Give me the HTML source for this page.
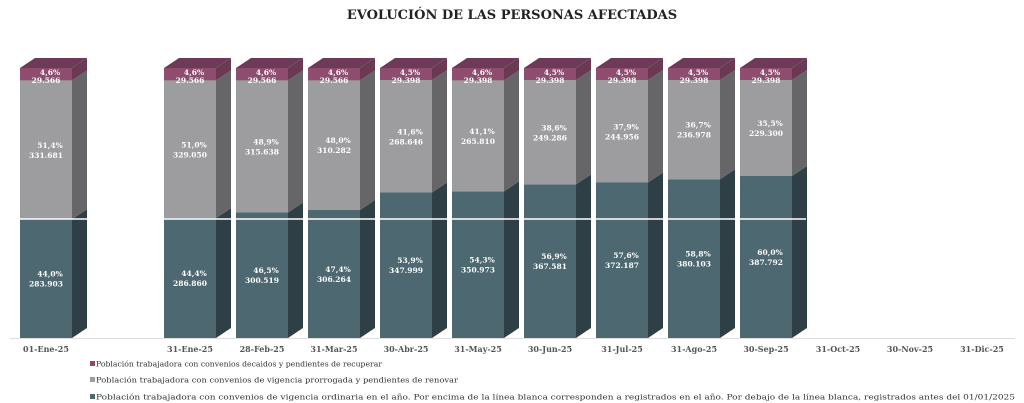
<!DOCTYPE html>
<html><head><meta charset="utf-8"><style>
html,body{margin:0;padding:0;background:#fff;}
svg{display:block;}
</style></head><body>
<svg id="c" width="1024" height="403" xmlns="http://www.w3.org/2000/svg" font-family="DejaVu Serif, Liberation Serif, serif">
<text x="512" y="19" text-anchor="middle" font-size="13" font-weight="bold" fill="#222">EVOLUCIÓN DE LAS PERSONAS AFECTADAS</text>
<line x1="10" y1="338.5" x2="1015" y2="338.5" stroke="#ddd" stroke-width="1"/>
<g id="bars"></g>
<line x1="10" y1="219" x2="806" y2="219" stroke="#fff" stroke-width="1.5"/>
<g id="labs"></g>
<g font-size="7.8" fill="#333">
<rect x="90" y="361" width="5" height="5" fill="#8a4a6a"/>
<text x="96" y="366.5" textLength="286" lengthAdjust="spacingAndGlyphs">Población trabajadora con convenios decaidos y pendientes de recuperar</text>
<rect x="90" y="377" width="5" height="5" fill="#9d9d9d"/>
<text x="96" y="382.5" textLength="362" lengthAdjust="spacingAndGlyphs">Población trabajadora con convenios de vigencia prorrogada y pendientes de renovar</text>
<rect x="90" y="394" width="5" height="5" fill="#4d6870"/>
<text x="96" y="399.5" textLength="919" lengthAdjust="spacingAndGlyphs">Población trabajadora con convenios de vigencia ordinaria en el año.  Por encima de la línea blanca corresponden a registrados en el año. Por debajo de la línea blanca, registrados antes del 01/01/2025</text>
</g>
</svg>
<script>
var d=[[0,"4,6%","29.566",51.4,"331.681",44.0,"283.903"],
[2,"4,6%","29.566",51.0,"329.050",44.4,"286.860"],
[3,"4,6%","29.566",48.9,"315.638",46.5,"300.519"],
[4,"4,6%","29.566",48.0,"310.282",47.4,"306.264"],
[5,"4,5%","29.398",41.6,"268.646",53.9,"347.999"],
[6,"4,6%","29.398",41.1,"265.810",54.3,"350.973"],
[7,"4,5%","29.398",38.6,"249.286",56.9,"367.581"],
[8,"4,5%","29.398",37.9,"244.956",57.6,"372.187"],
[9,"4,5%","29.398",36.7,"236.978",58.8,"380.103"],
[10,"4,5%","29.398",35.5,"229.300",60.0,"387.792"]];
var cats=["01-Ene-25","","31-Ene-25","28-Feb-25","31-Mar-25","30-Abr-25","31-May-25","30-Jun-25","31-Jul-25","31-Ago-25","30-Sep-25","31-Oct-25","30-Nov-25","31-Dic-25"];
var s="",l="",B=338,T=68,k=2.7,w=52,dx=15,dy=10;
function seg(x,y1,y2,f,sd){return '<rect x="'+x+'" y="'+y1+'" width="'+w+'" height="'+(y2-y1)+'" fill="'+f+'"/>'+
'<polygon points="'+(x+w)+','+y1+' '+(x+w+dx)+','+(y1-dy)+' '+(x+w+dx)+','+(y2-dy)+' '+(x+w)+','+y2+'" fill="'+sd+'"/>';}
function tx(x,y,t){return '<text x="'+x+'" y="'+y+'" text-anchor="middle" font-size="7.5" font-weight="bold" fill="#fff">'+t+'</text>';}
d.forEach(function(r){var x=20+72*r[0];var tt=B-r[5]*k;var gt=tt-r[3]*k;var cx=x+w/2;
s+=seg(x,tt,B,"#4d6870","#2f3f46");s+=seg(x,gt,tt,"#9d9d9f","#666668");s+=seg(x,T,gt,"#8e4d6e","#6a3a54");
s+='<polygon points="'+x+','+T+' '+(x+dx)+','+(T-dy)+' '+(x+w+dx)+','+(T-dy)+' '+(x+w)+','+T+'" fill="#6d3b57"/>';
l+=tx(cx+4,T+7,r[1])+tx(cx,T+15,r[2]);
var gm=(gt+tt)/2;l+=tx(cx+4,gm-2,r[3].toFixed(1).replace('.',',')+'%')+tx(cx,gm+8,r[4]);
var tm=(tt+B)/2;l+=tx(cx+4,tm-2,r[5].toFixed(1).replace('.',',')+'%')+tx(cx,tm+8,r[6]);});
cats.forEach(function(c,i){if(c)l+='<text x="'+(46+72*i)+'" y="352" text-anchor="middle" font-size="8" font-weight="bold" fill="#555">'+c+'</text>';});
document.getElementById('bars').innerHTML=s;document.getElementById('labs').innerHTML=l;
</script>
</body></html>
